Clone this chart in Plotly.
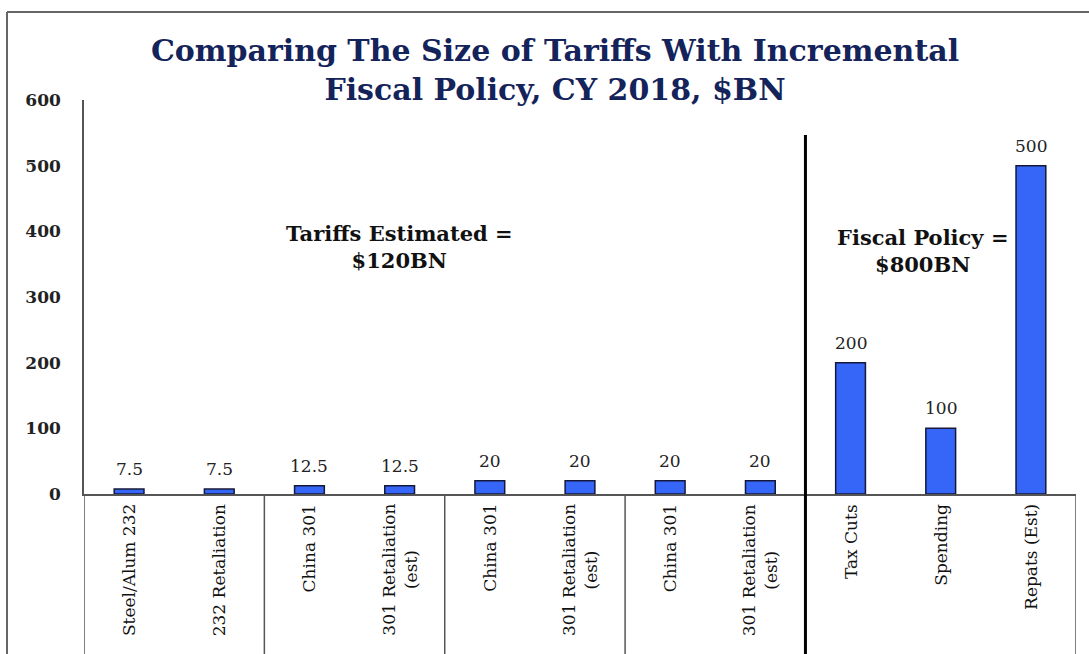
import plotly.graph_objects as go

categories = ["Steel/Alum 232", "232 Retaliation", "China 301", "301 Retaliation<br>(est)",
              "China 301", "301 Retaliation<br>(est)", "China 301", "301 Retaliation<br>(est)",
              "Tax Cuts", "Spending", "Repats (Est)"]
values = [7.5, 7.5, 12.5, 12.5, 20, 20, 20, 20, 200, 100, 500]
value_labels = ["7.5", "7.5", "12.5", "12.5", "20", "20", "20", "20", "200", "100", "500"]
y_ticks = [0, 100, 200, 300, 400, 500, 600]

W, H = 1089, 654
L, R, T, B = 84, 1089 - 1076, 100, 654 - 494
PW, PH = W - L - R, H - T - B
xs = list(range(len(categories)))

SERIF = "Georgia, 'DejaVu Serif', serif"


def px_x(p):
    return (p - L) / PW


def px_y(p):
    return (H - B - p) / PH


fig = go.Figure()
fig.add_trace(go.Bar(
    x=xs, y=values, width=0.33,
    marker=dict(color="#3566f8", line=dict(color="#15183a", width=1.5)),
    hoverinfo="skip",
))

annotations = []
# value labels above bars
for xi, v, lab in zip(xs, values, value_labels):
    annotations.append(dict(x=xi, y=v, xref="x", yref="y", text=lab, showarrow=False,
                            yanchor="middle", yshift=20,
                            font=dict(family=SERIF, size=17, color="#222222")))
# rotated category labels below the axis
for xi, cat in zip(xs, categories):
    annotations.append(dict(x=xi, y=0, xref="x", yref="y", text=cat, showarrow=False,
                            textangle=-90, align="center", xanchor="center", yanchor="top",
                            yshift=-8,
                            font=dict(family=SERIF, size=17, color="#111111")))
annotations += [
    dict(text="<b>Tariffs Estimated =<br>$120BN</b>", x=3.0, y=376, xref="x", yref="y",
         showarrow=False, font=dict(family=SERIF, size=21, color="#111111"), align="center"),
    dict(text="<b>Fiscal Policy =<br>$800BN</b>", x=8.8, y=370, xref="x", yref="y",
         showarrow=False, font=dict(family=SERIF, size=21, color="#111111"), align="center"),
]

bottom = px_y(H + 10)
shapes = []
# outer frame
shapes.append(dict(type="line", xref="paper", yref="paper",
                   x0=px_x(7), x1=px_x(7), y0=px_y(12), y1=bottom,
                   line=dict(color="#666666", width=2)))
shapes.append(dict(type="line", xref="paper", yref="paper",
                   x0=px_x(7), x1=px_x(W + 10), y0=px_y(12), y1=px_y(12),
                   line=dict(color="#666666", width=2)))
# y axis extension below zero
shapes.append(dict(type="line", xref="x", yref="paper", x0=-0.5, x1=-0.5, y0=0, y1=bottom,
                   line=dict(color="#555555", width=1.5)))
# group separators below axis
for xb in [1.5, 3.5, 5.5, 10.5]:
    shapes.append(dict(type="line", xref="x", yref="paper", x0=xb, x1=xb, y0=0, y1=bottom,
                       line=dict(color="#555555", width=1.5)))
# thick divider
shapes.append(dict(type="line", xref="x", yref="paper", x0=7.5, x1=7.5,
                   y0=px_y(135), y1=bottom,
                   line=dict(color="#000000", width=3)))

fig.update_layout(
    width=W, height=H,
    margin=dict(l=L, r=R, t=T, b=B, autoexpand=False),
    paper_bgcolor="white", plot_bgcolor="white",
    showlegend=False,
    shapes=shapes,
    annotations=annotations,
    title=dict(text="<b>Comparing The Size of Tariffs With Incremental<br>Fiscal Policy, CY 2018, $BN</b>",
               x=(555 / W), xanchor="center", y=1 - 61 / H, yanchor="middle",
               font=dict(family=SERIF, size=30, color="#14235a")),
)
fig.update_xaxes(
    range=[-0.5, 10.5], tickmode="array", tickvals=xs, showticklabels=False,
    showgrid=False, zeroline=False, automargin=False,
    showline=True, linecolor="#555555", linewidth=1.5, ticks="",
)
fig.update_yaxes(
    range=[0, 600], tickvals=y_ticks, showgrid=False, zeroline=False, automargin=False,
    showline=True, linecolor="#555555", linewidth=1.5, ticks="",
    ticklabelstandoff=18,
    tickfont=dict(family=SERIF, size=17, color="#222222", weight="bold"),
)

fig.write_html("out.html", config={"displayModeBar": False},
               post_script="document.body.style.margin='0';document.body.style.overflow='hidden';")
